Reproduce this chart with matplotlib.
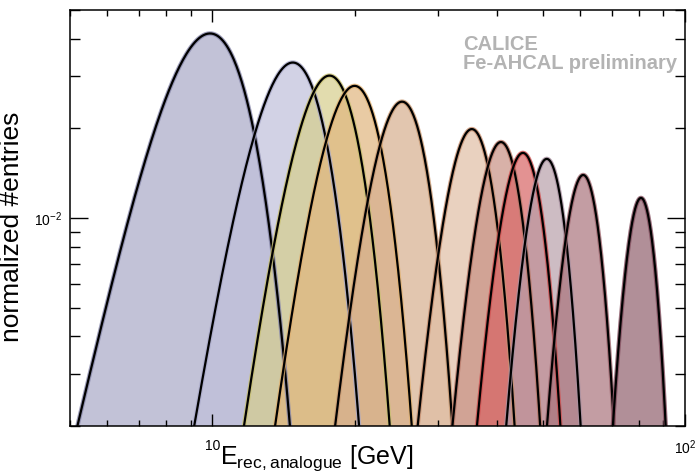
import numpy as np
import matplotlib
matplotlib.use("Agg")
import matplotlib.pyplot as plt
from matplotlib.ticker import LogLocator, NullFormatter, FixedLocator, FixedFormatter

plt.rcParams['font.family'] = ['Liberation Sans', 'DejaVu Sans']
plt.rcParams['mathtext.fontset'] = 'custom'
plt.rcParams['mathtext.rm'] = 'Liberation Sans'

# beam energies and gaussian fit parameters
beam_energy = [10, 15, 18, 20, 25, 35, 40, 45, 50, 60, 80]
fit_mean = [9.89, 14.8, 17.7, 20.0, 25.2, 35.4, 40.8, 45.4, 51.0, 60.9, 80.7]
fit_sigma = [1.91, 2.38, 2.59, 2.80, 3.13, 3.83, 4.10, 4.43, 4.50, 5.00, 5.50]
fit_peak = [0.0417, 0.0333, 0.0301, 0.0278, 0.0246, 0.0199, 0.0180, 0.01655,
            0.0158, 0.01395, 0.01168]

fill_colors = ['#a8a8c6', '#c0c0da', '#d6ce8c', '#e0b67e', '#d6ae8e', '#e0bea4',
               '#c89084', '#d86464', '#b8a0aa', '#aa747c', '#90606c']
edge_colors = ['#8888aa', '#a8a8c8', '#c8c070', '#e0b070', '#c89870', '#c89070',
               '#b87868', '#d05050', '#a890a0', '#a06870', '#845060']

fig = plt.figure(figsize=(6.96, 4.73), dpi=100)
ax = fig.add_axes([70 / 696, 47 / 473, 615 / 696, 416 / 473])

for i, e in enumerate(beam_energy):
    mu, s, a = fit_mean[i], fit_sigma[i], fit_peak[i]
    xs = np.linspace(max(mu - 5 * s, 0.1), mu + 5 * s, 400)
    ys = a * np.exp(-0.5 * ((xs - mu) / s) ** 2)
    ax.fill_between(xs, 1e-4, ys, color=fill_colors[i], alpha=0.7, lw=0)
    ax.plot(xs, ys, color=edge_colors[i], lw=3.2, alpha=0.8)
    ax.plot(xs, ys, color='black', lw=1.6)

ax.set_xscale('log')
ax.set_yscale('log')
ax.set_xlim(5, 100)
ax.set_ylim(2e-3, 5e-2)

ax.xaxis.set_major_locator(FixedLocator([10, 100]))
ax.xaxis.set_major_formatter(FixedFormatter(['10', r'10$^{\mathregular{2}}$']))
ax.xaxis.set_minor_locator(LogLocator(base=10, subs=np.arange(2, 10)))
ax.xaxis.set_minor_formatter(NullFormatter())
ax.yaxis.set_major_locator(FixedLocator([1e-2]))
ax.yaxis.set_major_formatter(FixedFormatter([r'10$^{\mathregular{-2}}$']))
ax.yaxis.set_minor_locator(LogLocator(base=10, subs=np.arange(2, 10)))
ax.yaxis.set_minor_formatter(NullFormatter())

ax.tick_params(which='both', direction='in', top=True, right=True, width=1.0,
               labelsize=10, colors='black')
ax.tick_params(axis='x', which='major', length=8.5, pad=9)
ax.tick_params(axis='x', which='minor', length=4)
ax.tick_params(axis='y', which='major', length=13, pad=6)
ax.tick_params(axis='y', which='minor', length=7)
for sp in ax.spines.values():
    sp.set_linewidth(1.1)

ax.set_ylabel('normalized #entries', fontsize=19)
ax.yaxis.set_label_coords(-70 / 615 + 24 / 615, 0.48)
fig.text(220 / 696, 9 / 473, r'E$_{\mathregular{rec,analogue}}$ [GeV]', fontsize=18,
         ha='left', va='baseline')

fig.text(463 / 696, 1 - 35 / 473, 'CALICE\nFe-AHCAL preliminary', fontsize=14.5,
         fontweight='bold', color='#b3b3b3', ha='left', va='top', linespacing=1.0)

fig.savefig('out.png', dpi=100)
